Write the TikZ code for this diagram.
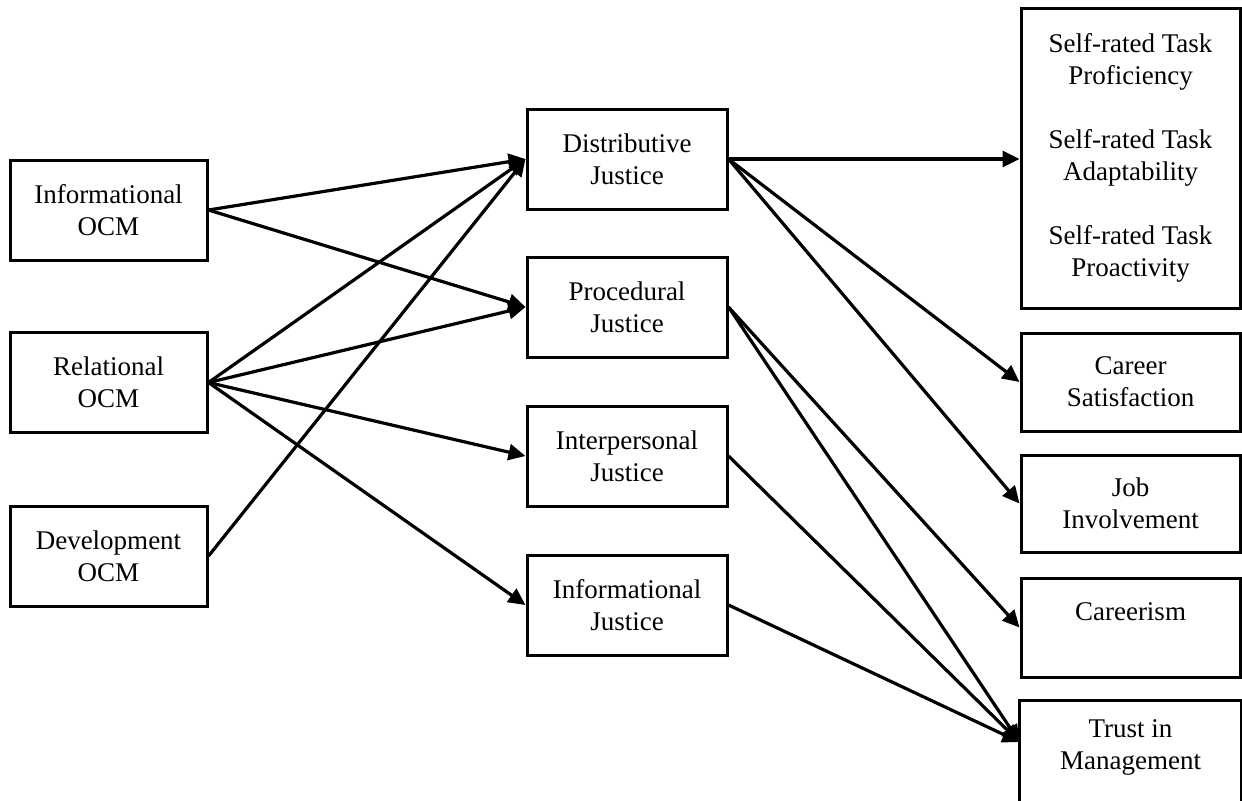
\documentclass[tikz,border=0pt]{standalone}
\usepackage{fontspec}
\setmainfont{Liberation Serif}
\usetikzlibrary{arrows.meta}
\begin{document}
\begin{tikzpicture}[x=0.5pt,y=-0.5pt,
  box/.style={draw, line width=1.5pt, align=center, inner sep=0pt,
              font=\fontsize{13.5}{16}\selectfont},
  lbox/.style={box, minimum width=98.5pt, minimum height=50pt},
  mbox/.style={box, minimum width=100pt, minimum height=50pt},
  rbox/.style={box, minimum width=109.5pt},
  link/.style={line width=1.6pt, -{Triangle[length=8.5pt,width=8pt]}}]

\useasboundingbox (0,0) rectangle (1242,800);
\fill[white] (0,0) rectangle (1242,800);
\clip (0,0) rectangle (1242,800);

% antecedents
\node[lbox] (iocm) at (108.5,210)   {Informational\\OCM};
\node[lbox] (rocm) at (108.5,382.5) {Relational\\OCM};
\node[lbox] (docm) at (108.5,556)   {Development\\OCM};

% justice dimensions
\node[mbox] (dj)   at (627,159) {Distributive\\Justice};
\node[mbox] (pj)   at (627,307) {Procedural\\Justice};
\node[mbox] (ij)   at (627,456) {Interpersonal\\Justice};
\node[mbox] (infj) at (627,605) {Informational\\Justice};

% outcomes
\node[rbox, minimum height=150pt] (self) at (1130.5,158)
  {Self-rated Task\\Proficiency\\[16pt]Self-rated Task\\Adaptability\\[16pt]Self-rated Task\\Proactivity};
\node[rbox, minimum height=49pt]   (cs)  at (1130.5,382)   {Career\\Satisfaction};
\node[rbox, minimum height=48.5pt] (ji)  at (1130.5,503.5) {Job\\Involvement};
\node[rbox, minimum height=49.5pt] (car) at (1130.5,627.5) {Careerism\\~};
\node[rbox, minimum height=45pt, draw=none] (trust) at (1130.5,747) {Trust in\\Management};
\draw[line width=1.5pt] ([yshift=-60pt]trust.south west) -- (trust.north west)
  -- (trust.north east) -- ([yshift=-60pt]trust.south east);
\coordinate (trustin) at ([yshift=2.5pt]trust.west);

% paths from OCM to justice
\draw[link] (iocm.east) -- (dj.west);
\draw[link] (iocm.east) -- (pj.west);
\draw[link] (rocm.east) -- (dj.west);
\draw[link] (rocm.east) -- (pj.west);
\draw[link] (rocm.east) -- (ij.west);
\draw[link] (rocm.east) -- (infj.west);
\draw[link] (docm.east) -- (dj.west);

% paths from justice to outcomes
\draw[link] (dj.east) -- (dj.east -| self.west);
\draw[link] (dj.east) -- (cs.west);
\draw[link] (dj.east) -- (ji.west);
\draw[link] (pj.east) -- (car.west);
\draw[link] (pj.east) -- (trustin);
\draw[link] (ij.east) -- (trustin);
\draw[link] (infj.east) -- (trustin);
\end{tikzpicture}
\end{document}
